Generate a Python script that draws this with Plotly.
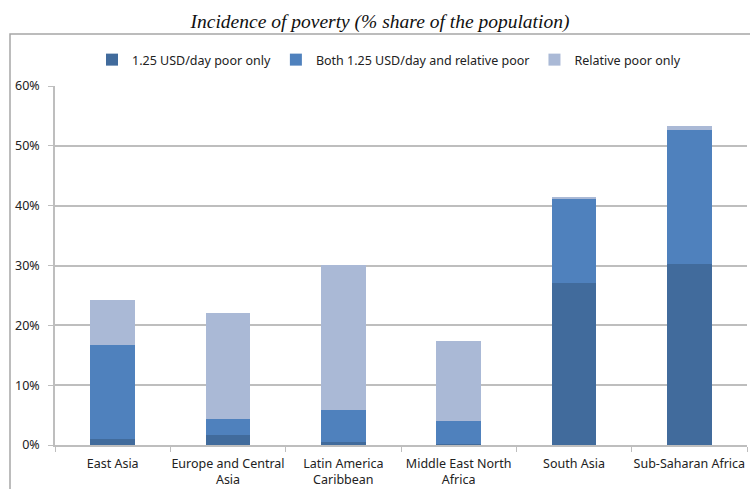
import plotly.graph_objects as go

categories = ["East Asia", "Europe and Central<br>Asia", "Latin America<br>Caribbean",
              "Middle East North<br>Africa", "South Asia", "Sub-Saharan Africa"]
poor_only = [1.0, 1.7, 0.5, 0.1, 27.0, 30.2]
both = [15.7, 2.6, 5.35, 3.9, 14.2, 22.5]
relative_only = [7.5, 17.7, 24.25, 13.3, 0.2, 0.6]
series_names = ["1.25 USD/day poor only", "Both 1.25 USD/day and relative poor", "Relative poor only"]
colors = ["#416B9C", "#4F81BD", "#AAB9D6"]

fig = go.Figure()
for name, vals, c in zip(series_names, [poor_only, both, relative_only], colors):
    fig.add_trace(go.Bar(x=categories, y=vals, name=name, marker=dict(color=c, line=dict(width=0))))

L, R, T, B = 55, 3, 86, 44
W, H = 750, 489
pw, ph = W - L - R, H - T - B
FS = 12.5

fig.update_layout(
    width=W, height=H,
    barmode="stack", bargap=0.61,
    margin=dict(l=L, r=R, t=T, b=B, autoexpand=False),
    paper_bgcolor="white", plot_bgcolor="white",
    title=dict(text="<i>Incidence of poverty (% share of the population)</i>",
               x=(380 - L) / pw, xref="paper", xanchor="center", y=1 - 21 / H, yanchor="middle",
               font=dict(family="Liberation Serif", size=19.5, color="#111")),
    legend=dict(orientation="h", x=(389 - L) / pw, xanchor="center", y=1 + (86 - 60) / ph, yanchor="middle",
                font=dict(family="Noto Sans", size=FS, color="#222"),
                itemwidth=30, traceorder="normal", itemclick=False),
    font=dict(family="Noto Sans", size=FS, color="#222"),
    showlegend=True,
)
fig.update_yaxes(range=[0, 60], dtick=10, ticksuffix="%", showgrid=True, gridcolor="#BEBEBE",
                 gridwidth=1.5, showline=True, linecolor="#BEBEBE", linewidth=1.5,
                 ticks="outside", ticklen=5, tickcolor="#BEBEBE", zeroline=False,
                 ticklabelstandoff=6, automargin=False,
                 tickfont=dict(family="Noto Sans", size=FS, color="#222"))
fig.update_xaxes(showline=True, linecolor="#BEBEBE", linewidth=1.5, ticks="outside",
                 tickson="boundaries", ticklen=5, tickcolor="#BEBEBE",
                 ticklabelstandoff=6, tickangle=0, automargin=False,
                 tickfont=dict(family="Noto Sans", size=FS, color="#222"))

fig.add_shape(type="rect", xref="paper", yref="paper",
              x0=(10 - L) / pw, x1=1.2, y0=-0.3, y1=(445 - 34) / ph,
              line=dict(color="#A6A6A6", width=1.5), fillcolor="rgba(0,0,0,0)", layer="below")

fig.write_html("out.html")
